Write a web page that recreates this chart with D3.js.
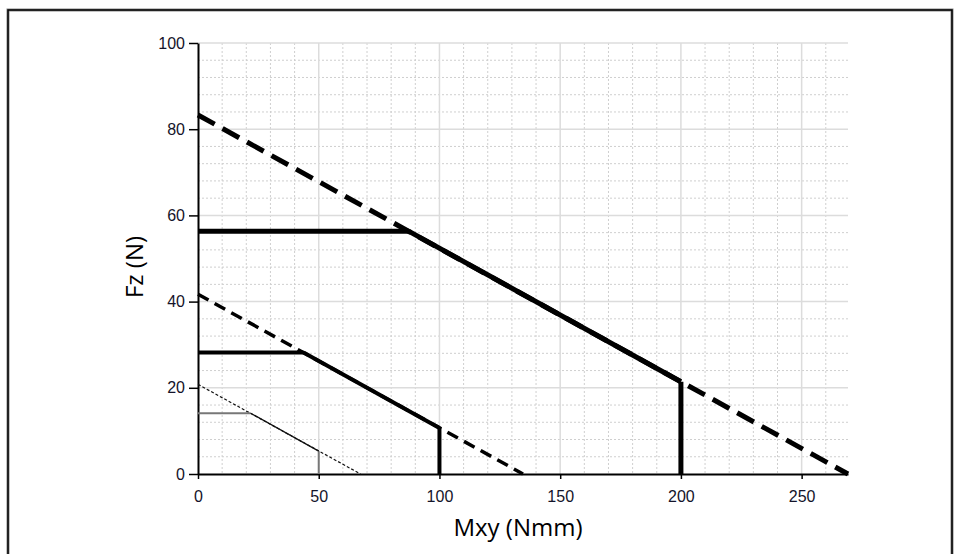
<!DOCTYPE html>
<html>
<head>
<meta charset="utf-8">
<script src="https://cdn.jsdelivr.net/npm/d3@7/dist/d3.min.js"></script>
<style>
  html, body { margin: 0; padding: 0; background: #fff; }
  svg { display: block; }
</style>
</head>
<body>
<svg id="chart" width="954" height="554"></svg>
<script>
// Load limits of the three sizes: dashed theoretical limit, solid usable envelope.
const sizes = ["large", "medium", "small"];
const limitLines = [
  [[0, 83.3], [269.2, 0]],
  [[0, 41.7], [134.6, 0]],
  [[0, 20.8], [67.3, 0]]
];
const capSegments = [          // horizontal Fz cap
  [[0, 56.3], [87.4, 56.3]],
  [[0, 28.2], [43.7, 28.2]],
  [[0, 14.1], [21.8, 14.1]]
];
const slopeSegments = [        // along the limit line
  [[87.4, 56.3], [200, 21.4]],
  [[43.7, 28.2], [100, 10.7]],
  [[21.8, 14.1], [50, 5.3]]
];
const mxyCutoffs = [           // vertical Mxy cap
  [[200, 21.4], [200, 0]],
  [[100, 10.7], [100, 0]],
  [[50, 5.3], [50, 0]]
];
const xTicks = [0, 50, 100, 150, 200, 250];
const yTicks = [0, 20, 40, 60, 80, 100];
const xMinor = [10, 20, 30, 40, 60, 70, 80, 90, 110, 120, 130, 140, 160, 170, 180, 190, 210, 220, 230, 240, 260];
const yMinor = [4, 8, 12, 16, 24, 28, 32, 36, 44, 48, 52, 56, 64, 68, 72, 76, 84, 88, 92, 96];

const svg = d3.select("#chart");
const x = d3.scaleLinear().domain([0, 269.2]).range([198, 848]);
const y = d3.scaleLinear().domain([0, 100]).range([474, 43]);

// frame
svg.append("rect").attr("x", 8).attr("y", 10).attr("width", 944).attr("height", 560)
  .attr("fill", "none").attr("stroke", "#888").attr("stroke-width", 3);
svg.append("rect").attr("x", 8).attr("y", 10).attr("width", 944).attr("height", 560)
  .attr("fill", "none").attr("stroke", "#000").attr("stroke-width", 1.5);

// grid
const grid = svg.append("g");
grid.selectAll(".vmin").data(xMinor).join("line")
  .attr("x1", d => x(d)).attr("x2", d => x(d)).attr("y1", y(100)).attr("y2", y(0))
  .attr("stroke", "#cfcfcf").attr("stroke-width", 1).attr("stroke-dasharray", "2,2");
grid.selectAll(".hmin").data(yMinor).join("line")
  .attr("x1", x(0)).attr("x2", x(269.2)).attr("y1", d => y(d)).attr("y2", d => y(d))
  .attr("stroke", "#cfcfcf").attr("stroke-width", 1).attr("stroke-dasharray", "2,2");
grid.selectAll(".vmaj").data(xTicks.filter(d => d > 0)).join("line")
  .attr("x1", d => x(d)).attr("x2", d => x(d)).attr("y1", y(100)).attr("y2", y(0))
  .attr("stroke", "#dcdcdc").attr("stroke-width", 1.5);
grid.selectAll(".hmaj").data(yTicks.filter(d => d > 0)).join("line")
  .attr("x1", x(0)).attr("x2", x(269.2)).attr("y1", d => y(d)).attr("y2", d => y(d))
  .attr("stroke", "#dcdcdc").attr("stroke-width", 1.5);

// axes
const xAxis = svg.append("g").attr("transform", `translate(0,${y(0)})`)
  .call(d3.axisBottom(x).tickValues(xTicks).tickSize(5).tickPadding(12).tickSizeOuter(0));
const yAxis = svg.append("g").attr("transform", `translate(${x(0)},0)`)
  .call(d3.axisLeft(y).tickValues(yTicks).tickSize(9).tickPadding(4).tickSizeOuter(0));
[xAxis, yAxis].forEach(a => {
  a.attr("font-size", null).attr("font-family", null);
  a.select(".domain").attr("stroke", "#000").attr("stroke-width", 2);
  a.selectAll(".tick line").attr("stroke", "#000").attr("stroke-width", 1.5);
  a.selectAll(".tick text").attr("fill", "#14142a")
    .style("font-family", "'Liberation Sans', Arial, sans-serif").style("font-size", "16px");
});

// series
const line = d3.line().x(d => x(d[0])).y(d => y(d[1]));
const styles = {
  large:  { w: 5,   dash: "19,9", color: "#000", capColor: "#000", capW: 5 },
  medium: { w: 3.5, dash: "12,7", color: "#000", capColor: "#000", capW: 4 },
  small:  { w: 1.2, dash: "3,2",  color: "#111", capColor: "#777", capW: 2 }
};
const series = svg.append("g");
sizes.forEach((s, i) => {
  const st = styles[s];
  series.append("path").attr("d", line(limitLines[i])).attr("fill", "none")
    .attr("stroke", st.color).attr("stroke-width", st.w).attr("stroke-dasharray", st.dash);
  series.append("path").attr("d", line(capSegments[i])).attr("fill", "none")
    .attr("stroke", st.capColor).attr("stroke-width", st.capW);
  series.append("path").attr("d", line(mxyCutoffs[i])).attr("fill", "none")
    .attr("stroke", st.capColor).attr("stroke-width", st.capW);
  series.append("path").attr("d", line(slopeSegments[i])).attr("fill", "none")
    .attr("stroke", st.color).attr("stroke-width", s === "small" ? 1.3 : st.capW)
    .attr("stroke-linecap", "butt");
});

// axis titles
svg.append("text").attr("x", 518).attr("y", 536).attr("text-anchor", "middle")
  .style("font-family", "'Open Sans', sans-serif").style("font-size", "24px")
  .attr("fill", "#000").text("Mxy (Nmm)");
svg.append("text").attr("transform", "translate(143,267) rotate(-90)").attr("text-anchor", "middle")
  .style("font-family", "'Open Sans', sans-serif").style("font-size", "24px")
  .attr("fill", "#000").text("Fz (N)");
</script>
</body>
</html>
